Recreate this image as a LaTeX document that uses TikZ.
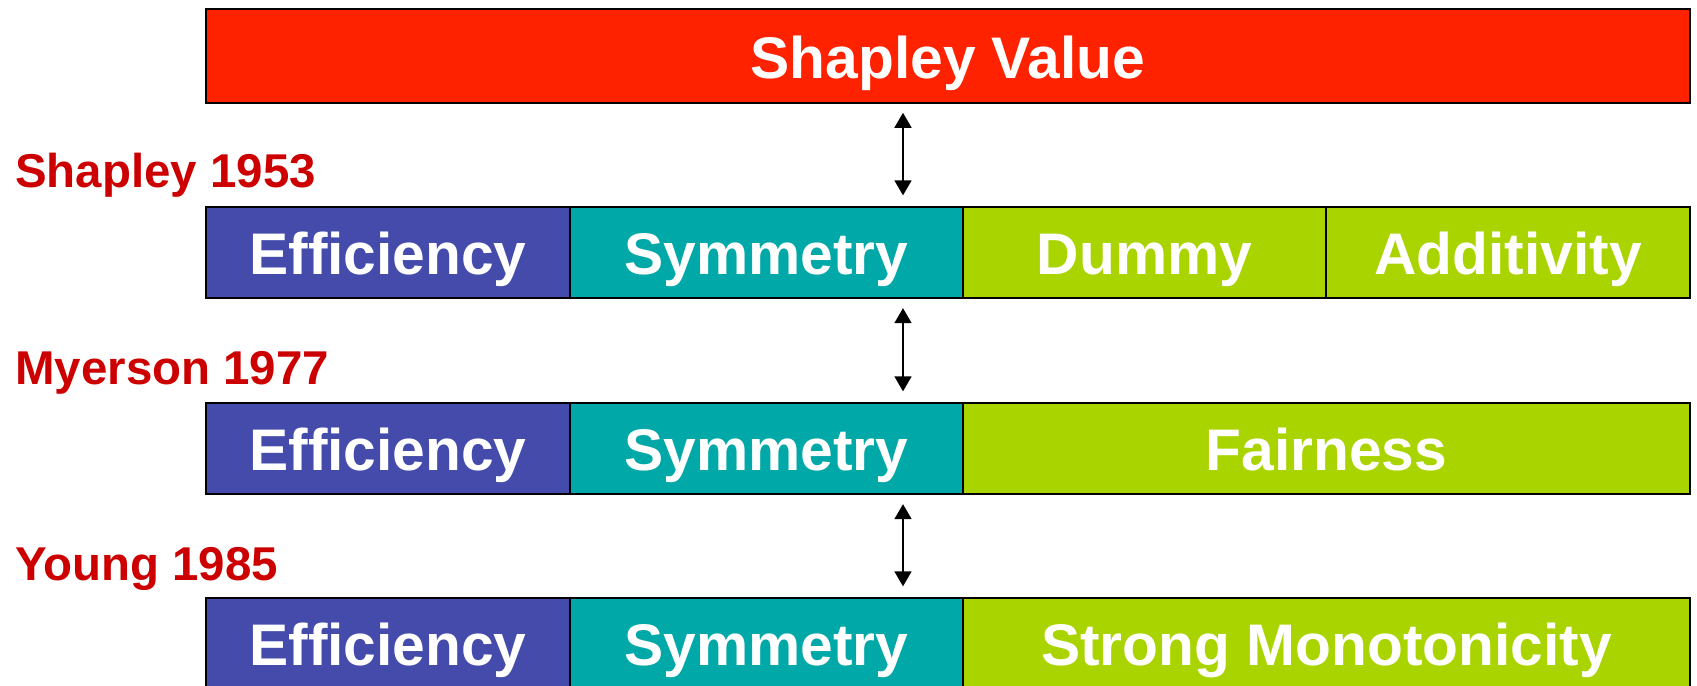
\documentclass[tikz,border=0pt]{standalone}
\usepackage{fontspec}
\setmainfont{Liberation Sans}
\usetikzlibrary{matrix, arrows.meta}

\definecolor{svred}{HTML}{FF2200}
\definecolor{effblue}{HTML}{444BAA}
\definecolor{symteal}{HTML}{00A8A8}
\definecolor{axgreen}{HTML}{AAD400}
\definecolor{yearred}{HTML}{CC0000}

\tikzset{
  axiom/.style={draw, line width=1.5pt, text=white, minimum height=1.82cm, inner sep=0pt,
      text height=1.1cm, text depth=0.2cm, font=\fontsize{33.4pt}{40pt}\selectfont\bfseries},
  author/.style={anchor=base west, inner sep=0pt, text=yearred,
      font=\fontsize{27pt}{32pt}\selectfont\bfseries},
  updown/.style={{Triangle[length=0.3cm,width=0.34cm]}-{Triangle[length=0.3cm,width=0.34cm]},
      line width=1pt, shorten <=0.17cm, shorten >=0.2cm},
  effcol/.style={nodes={fill=effblue, minimum width=7.28cm}},
  symcol/.style={nodes={fill=symteal, minimum width=7.86cm}},
}

\begin{document}
\begin{tikzpicture}
    \useasboundingbox (0,0) rectangle (33.94,13.72);

    \node[axiom, fill=svred, minimum width=29.68cm, minimum height=1.88cm] (sv) at (18.96,12.6) {Shapley Value};

    % the three characterisations
    \matrix(shapley)[matrix of nodes, inner sep=0pt, column sep=-1.5pt,
        nodes={axiom},
        column 1/.style={effcol}, column 2/.style={symcol},
        column 3/.style={nodes={fill=axgreen, minimum width=7.26cm}},
        column 4/.style={nodes={fill=axgreen, minimum width=7.28cm}}] at (18.96,8.67)
    {
        Efficiency & Symmetry & Dummy & Additivity\\
    };

    \matrix(myerson)[matrix of nodes, inner sep=0pt, column sep=-1.5pt,
        nodes={axiom},
        column 1/.style={effcol}, column 2/.style={symcol},
        column 3/.style={nodes={fill=axgreen, minimum width=14.54cm}}] at (18.96,4.75)
    {
        Efficiency & Symmetry & Fairness\\
    };

    \matrix(young)[matrix of nodes, inner sep=0pt, column sep=-1.5pt,
        nodes={axiom},
        column 1/.style={effcol}, column 2/.style={symcol},
        column 3/.style={nodes={fill=axgreen, minimum width=14.54cm}}] at (18.96,0.85)
    {
        Efficiency & Symmetry & Strong Monotonicity\\
    };

    \node[author] (shapleylbl) at (0.3,9.96) {Shapley 1953};
    \node[author] (myersonlbl) at (0.3,6.02) {Myerson 1977};
    \node[author] (younglbl) at (0.3,2.10) {Young 1985};

    \coordinate (ax) at (18.06,0);
    \draw[updown] (sv.south -| ax) -- (shapley.north -| ax);
    \draw[updown] (shapley.south -| ax) -- (myerson.north -| ax);
    \draw[updown] (myerson.south -| ax) -- (young.north -| ax);
\end{tikzpicture}
\end{document}
